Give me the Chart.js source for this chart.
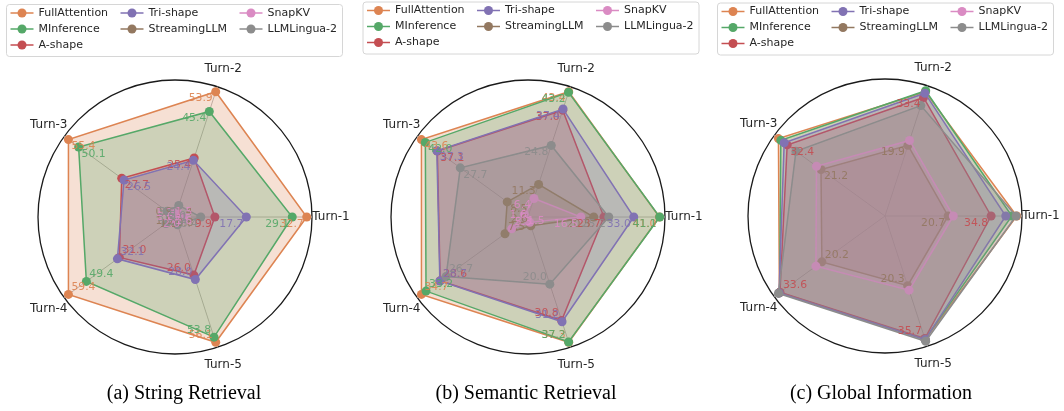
<!DOCTYPE html>
<html>
<head>
<meta charset="utf-8">
<script src="https://cdn.jsdelivr.net/npm/chart.js@4.4.1/dist/chart.umd.min.js"></script>
<style>
  html, body { margin: 0; padding: 0; background: #fff; }
  #wrap { position: relative; width: 1064px; height: 411px; overflow: hidden; }
  #wrap canvas { position: absolute; left: 0; top: 0; }
  .cap { position: absolute; top: 381px; font-family: "Liberation Serif", "Times New Roman", serif;
         font-size: 20px; color: #000; text-align: center; white-space: nowrap; }
</style>
</head>
<body>
<div id="wrap">
  <canvas id="c1" width="1064" height="411"></canvas>
  <canvas id="c2" width="1064" height="411"></canvas>
  <canvas id="c3" width="1064" height="411"></canvas>
  <div class="cap" style="left:84px;width:200px">(a) String Retrieval</div>
  <div class="cap" style="left:406px;width:240px">(b) Semantic Retrieval</div>
  <div class="cap" style="left:761px;width:240px">(c) Global Information</div>
</div>
<script>
const TURNS = ['Turn-1', 'Turn-2', 'Turn-3', 'Turn-4', 'Turn-5'];
const METHODS = ['FullAttention', 'MInference', 'A-shape', 'Tri-shape', 'StreamingLLM', 'SnapKV', 'LLMLingua-2'];
const COLORS = ['#dd8452', '#55a868', '#c44e52', '#8172b3', '#937860', '#da8bc3', '#8c8c8c'];

// rows follow METHODS, columns follow TURNS
const STRING_RETRIEVAL = [
  [32.7, 53.9, 55.4, 59.4, 56.1],
  [29.1, 45.4, 50.1, 49.4, 53.8],
  [9.9, 25.4, 27.7, 31.0, 26.0],
  [17.7, 24.4, 26.5, 32.1, 28.0],
  [1.2, 1.0, 0.8, 1.4, 0.9],
  [2.0, 2.8, 1.6, 1.5, 1.2],
  [6.4, 5.0, 4.1, 5.0, 3.5],
];
const SEMANTIC_RETRIEVAL = [
  [41.0, 43.4, 43.6, 34.7, 37.3],
  [41.1, 43.2, 42.0, 33.2, 37.2],
  [23.7, 37.0, 37.1, 28.6, 30.8],
  [33.0, 37.4, 37.3, 28.7, 31.2],
  [20.5, 11.3, 8.5, 7.5, 2.6],
  [16.5, 6.4, 1.5, 5.3, 1.6],
  [25.2, 24.8, 27.7, 26.7, 20.0],
];
const GLOBAL_INFORMATION = [
  [43.2, 35.0, 35.3, 33.8, 36.0],
  [41.6, 35.3, 34.5, 33.7, 35.9],
  [34.8, 33.4, 32.4, 33.6, 35.7],
  [39.6, 34.6, 33.4, 33.9, 36.0],
  [20.7, 19.9, 21.2, 20.2, 20.3],
  [22.4, 21.3, 22.7, 22.1, 21.6],
  [43.0, 31.1, 29.5, 34.1, 36.5],
];
const LABELED_GLOBAL = ['A-shape', 'StreamingLLM'];

// matplotlib goes counter-clockwise from the right, chart.js clockwise
const DISPLAY_ORDER = [0, 4, 3, 2, 1];
const RMAX = 1.04;
const R = 137.5;
const W = 1064, H = 411;

const FONT = '"DejaVu Sans", sans-serif';
const TEXT = '#262626';

function alpha(hex, a) {
  const n = parseInt(hex.slice(1), 16);
  return `rgba(${n >> 16},${(n >> 8) & 255},${n & 255},${a})`;
}

const turnLabels = {
  id: 'turnLabels',
  afterDraw(chart) {
    const s = chart.scales.r, ctx = chart.ctx;
    ctx.save();
    ctx.font = '12px ' + FONT;
    ctx.fillStyle = TEXT;
    ctx.textAlign = 'center';
    ctx.textBaseline = 'middle';
    chart.data.labels.forEach((lab, i) => {
      const p = s.getPointPosition(i, s.drawingArea + 19);
      ctx.fillText(lab, p.x, p.y);
    });
    ctx.restore();
  }
};

const valueLabels = {
  id: 'valueLabels',
  afterDatasetsDraw(chart, args, opts) {
    const ctx = chart.ctx;
    ctx.save();
    ctx.font = '10.8px ' + FONT;
    chart.data.datasets.forEach((ds, di) => {
      if (!opts.show.includes(ds.label)) return;
      const meta = chart.getDatasetMeta(di);
      meta.data.forEach((pt, k) => {
        const turn = DISPLAY_ORDER[k];
        const a = turn * 72 * Math.PI / 180;
        const right = Math.cos(a) > 0.01;
        const top = Math.sin(a) > -0.01;
        ctx.fillStyle = alpha(ds.borderColor, 0.9);
        ctx.textAlign = right ? 'right' : 'left';
        ctx.textBaseline = top ? 'top' : 'bottom';
        ctx.fillText(ds.raw[turn].toFixed(1), pt.x + (right ? -3 : 3), pt.y + (top ? 1.5 : -1.5));
      });
    });
    ctx.restore();
  }
};

const boxLegend = {
  id: 'boxLegend',
  afterDraw(chart, args, opts) {
    const ctx = chart.ctx;
    const [x0, y0] = opts.at;
    const colX = [32.5, 142.5, 261.5];
    const rowY = [9, 25, 41];
    ctx.save();
    ctx.fillStyle = 'rgba(255,255,255,0.8)';
    ctx.strokeStyle = '#d6d6d6';
    ctx.lineWidth = 1;
    ctx.beginPath();
    ctx.roundRect(x0 + 0.5, y0 + 0.5, 336, 52, 3);
    ctx.fill();
    ctx.stroke();
    ctx.font = '11px ' + FONT;
    ctx.textBaseline = 'middle';
    ctx.textAlign = 'left';
    // column-major, 3 rows, like matplotlib ncol=3
    const perCol = [3, 2, 2];
    let idx = 0;
    perCol.forEach((n, c) => {
      for (let r = 0; r < n; r++, idx++) {
        const tx = x0 + colX[c], ty = y0 + rowY[r];
        ctx.strokeStyle = COLORS[idx];
        ctx.lineWidth = 1.5;
        ctx.beginPath();
        ctx.moveTo(tx - 28, ty);
        ctx.lineTo(tx - 5, ty);
        ctx.stroke();
        ctx.fillStyle = COLORS[idx];
        ctx.beginPath();
        ctx.arc(tx - 16.5, ty, 4.5, 0, Math.PI * 2);
        ctx.fill();
        ctx.fillStyle = TEXT;
        ctx.fillText(METHODS[idx], tx, ty);
      }
    });
    ctx.restore();
  }
};

function makeRadar(id, values, cx, cy, legendAt, labeled) {
  const axisMax = TURNS.map((t, j) => Math.max(...values.map(row => row[j])));
  const datasets = METHODS.map((m, i) => ({
    label: m,
    raw: values[i],
    data: DISPLAY_ORDER.map(j => values[i][j] / axisMax[j]),
    borderColor: COLORS[i],
    backgroundColor: alpha(COLORS[i], 0.25),
    pointBackgroundColor: COLORS[i],
    pointBorderColor: COLORS[i],
    pointRadius: 4.5,
    pointBorderWidth: 0,
    borderWidth: 1.5,
    fill: true,
    order: METHODS.length - i,
  }));

  new Chart(document.getElementById(id), {
    type: 'radar',
    data: { labels: DISPLAY_ORDER.map(j => TURNS[j]), datasets },
    options: {
      responsive: false,
      animation: false,
      devicePixelRatio: 1,
      events: [],
      layout: {
        padding: { left: cx - R, right: W - cx - R, top: cy - R, bottom: H - cy - R }
      },
      plugins: {
        legend: { display: false },
        tooltip: { enabled: false },
        valueLabels: { show: labeled },
        boxLegend: { at: legendAt },
      },
      scales: {
        r: {
          min: 0,
          max: RMAX,
          startAngle: 90,
          ticks: { display: false, count: 2 },
          pointLabels: { display: false },
          grid: { circular: true, color: '#1a1a1a', lineWidth: 1.3 },
          angleLines: { color: '#b8b8b8', lineWidth: 1 },
        }
      }
    },
    plugins: [turnLabels, valueLabels, boxLegend]
  });
}

makeRadar('c1', STRING_RETRIEVAL, 175, 217, [6, 4], METHODS);
makeRadar('c2', SEMANTIC_RETRIEVAL, 528.5, 217, [362.5, 1.5], METHODS);
makeRadar('c3', GLOBAL_INFORMATION, 885.5, 216, [717, 2.5], LABELED_GLOBAL);
</script>
</body>
</html>
